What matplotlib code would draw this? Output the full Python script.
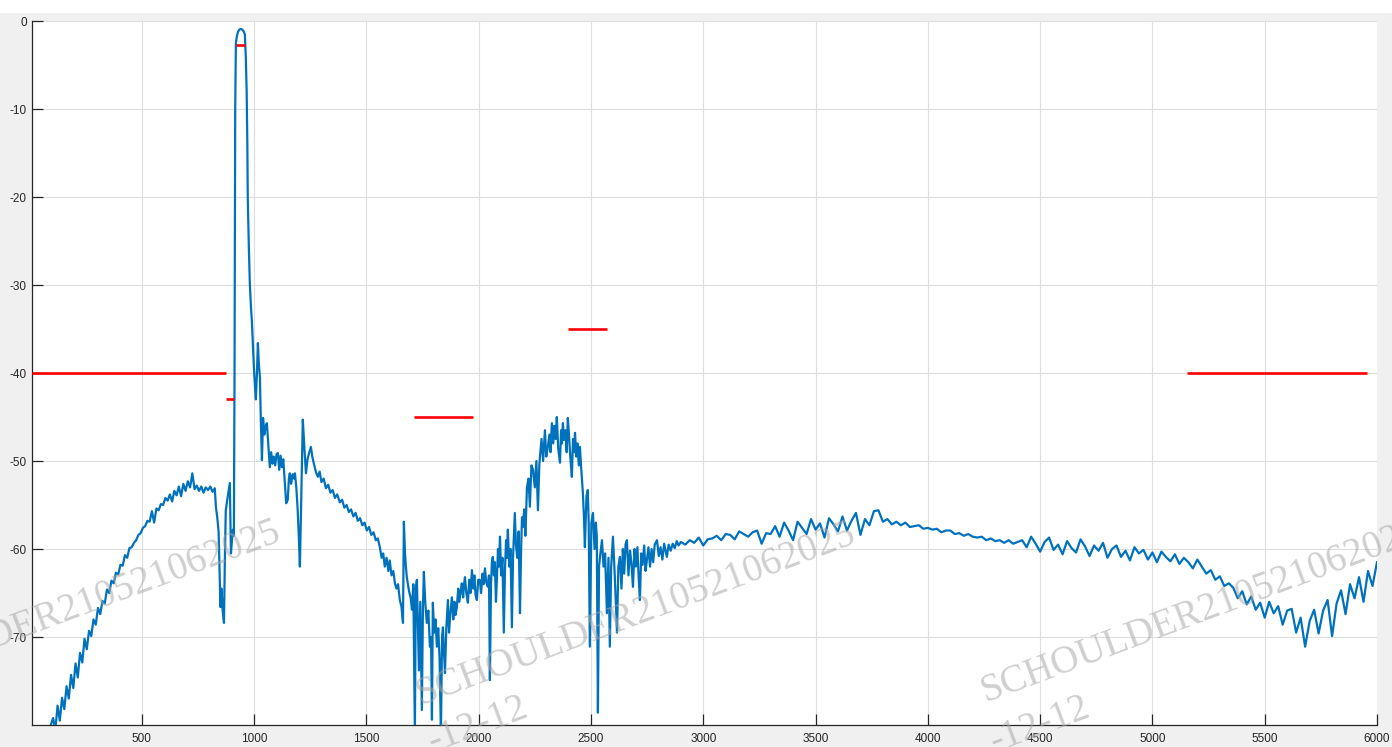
import numpy as np
import matplotlib.pyplot as plt
from matplotlib.patches import Rectangle

plt.rcParams['axes.unicode_minus'] = False

# ---- data ----
# low band 95..825 Hz, 10 Hz step
low_f0, low_f1 = 95, 825
low_db = [-80.0, -79.2, -80.6, -77.8, -79.5, -76.9, -78.2, -75.6, -77.0, -74.3,
          -75.8, -73.0, -74.6, -71.8, -72.9, -70.2, -71.4, -69.3, -69.9, -68.0,
          -68.6, -66.7, -67.4, -65.9, -66.2, -64.6, -65.0, -63.6, -63.9, -62.7,
          -62.9, -61.8, -61.9, -60.7, -61.0, -59.9, -59.8, -59.3, -59.0, -58.4,
          -58.2, -57.6, -57.4, -56.8, -56.9, -55.7, -57.0, -55.4, -55.6, -54.9,
          -55.0, -54.2, -54.5, -53.8, -54.6, -53.4, -53.9, -52.9, -54.0, -52.6,
          -53.4, -52.3, -53.0, -51.4, -53.2, -52.8, -53.4, -52.9, -53.6, -53.0,
          -53.3, -52.9, -53.5, -53.1]

# notch, main lobe and shoulder 830..1199 Hz
peak_pts = [(830, -55.2), (836, -56.4), (842, -58.0), (846, -62.0), (850, -66.6),
            (855, -64.5), (860, -67.0), (866, -68.4), (870, -61.0), (874, -55.6),
            (880, -54.5), (886, -53.5), (892, -52.5), (897, -60.5), (902, -58.8),
            (906, -57.8), (910, -58.5), (913, -40.0), (916, -10.0), (919, -2.5),
            (923, -1.8), (928, -1.25), (934, -1.0), (940, -0.9), (946, -0.95),
            (952, -1.1), (959, -1.5), (963, -4.0), (967, -8.0), (970, -14.0),
            (972, -20.3), (977, -26.0), (981, -29.8), (986, -32.5), (990, -34.0),
            (995, -37.0), (999, -39.3), (1004, -41.5), (1008, -43.0), (1012, -40.5),
            (1017, -36.6), (1021, -38.9), (1026, -40.5), (1030, -45.3), (1035, -49.9),
            (1040, -45.1), (1046, -47.0), (1052, -46.0), (1057, -45.7), (1063, -48.0),
            (1070, -50.7), (1076, -49.0), (1082, -50.3), (1088, -49.5), (1094, -50.5),
            (1100, -49.2), (1106, -49.1), (1112, -51.0), (1118, -49.4), (1124, -50.7),
            (1130, -49.8), (1137, -52.5), (1143, -54.8), (1150, -54.4), (1155, -52.0),
            (1159, -51.4), (1165, -52.6), (1172, -51.5), (1178, -52.0), (1182, -51.4),
            (1188, -53.0), (1194, -55.5), (1199, -58.5)]

# falling slope 1204..1676 Hz
slope_pts = [(1204, -62.0), (1210, -54.0), (1217, -45.3), (1224, -48.5), (1231, -51.4),
             (1238, -49.8), (1246, -49.0), (1253, -48.4), (1260, -49.6), (1268, -50.5),
             (1276, -51.3), (1284, -51.8), (1292, -51.2), (1300, -52.4), (1310, -52.0),
             (1320, -53.1), (1330, -52.7), (1340, -53.6), (1350, -53.3), (1360, -54.2),
             (1370, -53.8), (1382, -54.7), (1392, -54.4), (1402, -55.3), (1412, -55.0),
             (1422, -55.8), (1432, -55.5), (1442, -56.3), (1452, -55.9), (1462, -56.8),
             (1472, -56.5), (1482, -57.3), (1492, -57.0), (1502, -57.9), (1512, -57.5),
             (1522, -58.4), (1532, -58.1), (1542, -59.0), (1551, -58.8), (1560, -59.8),
             (1568, -61.0), (1575, -60.5), (1582, -62.0), (1590, -61.0), (1598, -62.5),
             (1604, -61.3), (1612, -63.0), (1620, -62.5), (1627, -63.9), (1634, -64.5),
             (1641, -64.0), (1649, -65.8), (1656, -66.5), (1663, -68.4), (1667, -56.9),
             (1672, -60.5), (1676, -62.0)]

# noisy trough 1680..2208 Hz
trough_pts = [(1680, -63.2), (1690, -64.8), (1697, -65.5), (1703, -66.9), (1709, -64.0),
              (1716, -81.0), (1720, -64.5), (1725, -63.5), (1730, -69.0), (1734, -73.8),
              (1740, -66.0), (1747, -78.3), (1752, -66.5), (1756, -62.6), (1762, -66.0),
              (1769, -68.4), (1776, -67.0), (1783, -71.1), (1788, -70.0), (1792, -79.4),
              (1796, -66.1), (1802, -69.5), (1808, -68.0), (1814, -71.1), (1820, -69.0),
              (1826, -72.5), (1832, -81.0), (1837, -70.0), (1841, -68.9), (1846, -72.0),
              (1850, -74.1), (1856, -69.0), (1863, -65.8), (1868, -69.5), (1872, -68.0),
              (1877, -66.5), (1881, -65.5), (1887, -68.0), (1892, -66.0), (1897, -67.5),
              (1903, -66.6), (1909, -64.5), (1914, -66.0), (1920, -64.8), (1925, -63.9),
              (1931, -65.5), (1935, -64.0), (1939, -63.2), (1945, -65.0), (1952, -66.1),
              (1958, -63.5), (1964, -65.0), (1970, -62.4), (1976, -64.5), (1981, -63.0),
              (1986, -65.2), (1992, -65.8), (1998, -63.5), (2005, -63.5), (2011, -65.0),
              (2017, -62.8), (2022, -64.0), (2028, -62.2), (2034, -63.8), (2041, -64.3),
              (2046, -63.0), (2050, -74.9), (2055, -64.0), (2059, -61.5), (2063, -60.9),
              (2068, -63.0), (2072, -61.5), (2077, -66.0), (2081, -63.5), (2086, -60.0),
              (2090, -62.0), (2095, -58.6), (2100, -63.0), (2106, -61.0), (2112, -69.5),
              (2117, -62.5), (2122, -59.0), (2126, -61.0), (2130, -57.8), (2136, -62.0),
              (2142, -60.0), (2148, -68.9), (2153, -61.0), (2157, -58.5), (2161, -55.9),
              (2166, -59.5), (2172, -61.0), (2178, -58.0), (2184, -67.3), (2189, -60.0),
              (2193, -56.4), (2197, -57.5), (2203, -55.5), (2208, -58.5)]

# second hump 2215..2890 Hz
hump_pts = [(2215, -53.0), (2222, -52.0), (2228, -55.2), (2235, -50.5), (2242, -51.0),
            (2250, -53.0), (2257, -50.0), (2264, -55.6), (2270, -50.5), (2273, -49.5),
            (2280, -47.5), (2287, -50.0), (2295, -46.5), (2301, -49.5), (2308, -48.4),
            (2315, -47.0), (2320, -49.0), (2326, -45.7), (2332, -48.0), (2337, -46.0),
            (2343, -47.5), (2348, -45.0), (2354, -48.5), (2362, -50.2), (2367, -46.5),
            (2371, -48.0), (2375, -45.7), (2380, -47.6), (2386, -46.5), (2392, -49.0),
            (2397, -45.1), (2402, -47.0), (2408, -49.5), (2415, -51.8), (2420, -47.5),
            (2425, -49.0), (2429, -46.8), (2435, -49.5), (2440, -48.0), (2446, -50.5),
            (2451, -48.4), (2457, -51.0), (2464, -53.6), (2469, -56.5), (2473, -59.8),
            (2480, -54.0), (2486, -53.3), (2490, -57.0), (2495, -71.1), (2502, -57.0),
            (2509, -55.9), (2516, -60.0), (2522, -57.0), (2526, -58.6), (2531, -78.6),
            (2536, -62.0), (2542, -60.5), (2549, -59.0), (2556, -62.0), (2563, -60.5),
            (2571, -67.3), (2578, -61.0), (2584, -71.1), (2590, -62.0), (2598, -58.6),
            (2606, -63.0), (2616, -69.5), (2622, -62.0), (2629, -60.9), (2636, -64.5),
            (2642, -60.0), (2648, -62.8), (2654, -59.5), (2660, -59.0), (2667, -63.0),
            (2674, -60.2), (2680, -61.5), (2687, -64.3), (2694, -60.0), (2700, -62.0),
            (2707, -59.8), (2712, -63.0), (2718, -65.8), (2724, -60.5), (2730, -61.8),
            (2737, -59.6), (2743, -62.5), (2749, -61.3), (2756, -59.8), (2763, -62.0),
            (2770, -60.0), (2777, -61.5), (2784, -59.5), (2794, -59.0), (2802, -60.8),
            (2810, -59.8), (2818, -61.2), (2826, -59.4), (2838, -60.9), (2846, -59.5),
            (2855, -60.2), (2864, -59.4), (2873, -59.9), (2882, -59.1), (2890, -59.6)]

# high band 2900..6000 Hz, 20 Hz step
high_f0, high_f1 = 2900, 6000
high_db = [-59.2, -59.5, -59.0, -59.3, -58.7, -59.6, -58.9, -58.8, -58.5, -59.0,
           -58.3, -58.4, -58.9, -58.0, -58.3, -58.6, -58.1, -57.9, -59.4, -58.2,
           -58.3,
           -57.4, -58.6, -57.0, -57.9, -59.0, -56.9, -57.6, -58.3, -56.6, -57.8,
           -57.1, -58.7, -56.5, -57.2, -58.0, -56.3, -57.9, -56.8, -55.9, -58.4,
           -56.6, -57.3, -55.7, -55.6,
           -56.9, -56.6, -57.2, -56.9, -57.3, -57.0, -57.5, -57.4, -57.3, -57.7,
           -57.6, -57.8, -57.7, -58.1, -57.9, -57.9, -58.3, -58.2, -58.5, -58.3,
           -58.6, -58.7, -58.6, -59.0, -58.8, -59.1, -59.0, -59.3, -59.0, -59.4,
           -59.2,
           -59.0, -59.8, -58.6, -59.4, -60.3, -59.2, -58.7, -60.1, -59.5, -60.6,
           -59.1, -59.9, -60.4, -58.9, -59.7, -60.8, -59.6, -60.2, -59.3, -61.0,
           -60.0, -59.6, -60.9, -60.2, -61.3, -59.8, -60.5, -60.1, -61.2, -60.4,
           -61.5, -60.3, -60.9, -61.4, -60.6, -61.7, -61.0, -61.5, -62.2, -61.2,
           -62.0, -62.8, -62.4, -63.5, -63.1, -64.2, -63.9, -64.4, -65.6, -64.8,
           -66.3, -65.4, -66.9, -66.1, -67.8, -66.0, -67.3, -66.5, -68.6, -67.0,
           -66.8, -69.5, -67.8, -71.1, -68.2, -66.9, -69.6, -67.0, -65.8, -69.9,
           -66.2, -64.7, -67.4, -64.0, -65.6, -63.2, -66.0, -62.5, -64.2, -61.5]

# mask segments (red)
mask_start = [12, 876, 920, 1710, 2400, 5152]
mask_stop = [876, 911, 960, 1976, 2570, 5955]
mask_db = [-40, -43, -2.7, -45, -35, -40]

xticks = [500, 1000, 1500, 2000, 2500, 3000, 3500, 4000, 4500, 5000, 5500, 6000]
yticks = [-70, -60, -50, -40, -30, -20, -10, 0]

# ---- assemble trace ----
freq = list(np.linspace(low_f0, low_f1, len(low_db)))
level = list(low_db)
for pts in (peak_pts, slope_pts, trough_pts, hump_pts):
    freq += [p[0] for p in pts]
    level += [p[1] for p in pts]
freq += list(np.linspace(high_f0, high_f1, len(high_db)))
level += high_db

W, H = 1392, 747
fig = plt.figure(figsize=(W / 100, H / 100), dpi=100)
fig.patch.set_facecolor('#f0f0f0')
fig.add_artist(Rectangle((0, 1 - 12 / H), 1, 12 / H, transform=fig.transFigure,
                         color='white', zorder=0))

ax = fig.add_axes([32.3 / W, 1 - 725 / H, (1377 - 32.3) / W, (725 - 21) / H])
ax.set_facecolor('white')
ax.plot(freq, level, color='#0072BD', lw=1.6, zorder=3)
ax.hlines(mask_db, mask_start, mask_stop, colors='#FF0000', lw=1.9, zorder=4)

ax.set_xlim(12.5, 6000)
ax.set_ylim(-80, 0)
ax.set_xticks(xticks)
ax.set_yticks(yticks)
ax.grid(True, color='#dedede', lw=0.8)
ax.set_axisbelow(True)
for s in ('top', 'right'):
    ax.spines[s].set_visible(False)
for s in ('left', 'bottom'):
    ax.spines[s].set_color('#262626')
    ax.spines[s].set_linewidth(0.9)
ax.tick_params(direction='in', length=8, width=0.9, color='#262626',
               labelcolor='#262626', labelsize=8.5)
ax.tick_params(axis='x', pad=6)
ax.tick_params(axis='y', pad=4)
for lab in ax.get_xticklabels() + ax.get_yticklabels():
    lab.set_family(['Liberation Sans', 'DejaVu Sans'])

# watermark overlay
wm = dict(family='Liberation Serif', fontsize=28, color='#a8a8a8', alpha=0.55,
          rotation=20.5, rotation_mode='anchor', va='baseline', zorder=10)
fig.text(282 / W, 1 - 540 / H, 'SCHOULDER210521062025', ha='right', **wm)
fig.text(420 / W, 1 - 705 / H, 'SCHOULDER210521062025', ha='left', **wm)
fig.text(432 / W, 1 - 752 / H, '-12-12', ha='left', **wm)
fig.text(985 / W, 1 - 702 / H, 'SCHOULDER210521062025', ha='left', **wm)
fig.text(995 / W, 1 - 752 / H, '-12-12', ha='left', **wm)

fig.savefig('out.png', dpi=100, facecolor=fig.get_facecolor())
